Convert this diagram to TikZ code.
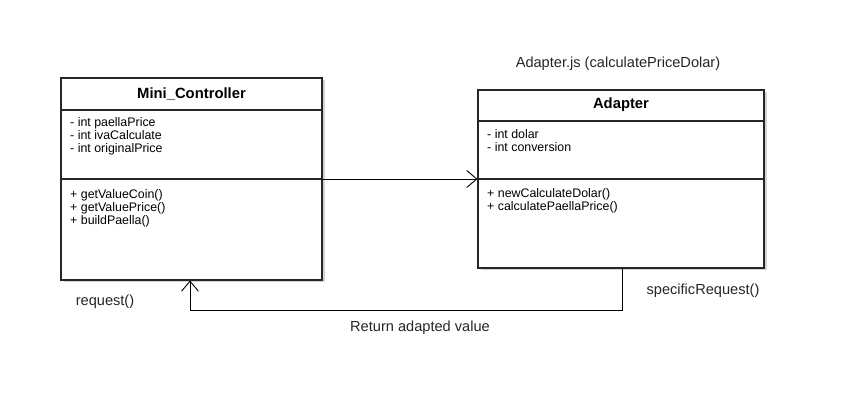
\documentclass[tikz,border=0pt]{standalone}
\usepackage{fontspec}
\setmainfont{Liberation Sans}
\usetikzlibrary{arrows.meta,shadows}

\begin{document}
\begin{tikzpicture}[x=1pt,y=-1pt,
    classbox/.style={draw=black!85, line width=1.1pt, fill=white, inner sep=0pt,
      drop shadow={shadow xshift=2.5pt, shadow yshift=-2.5pt, opacity=0.35}},
    member/.style={anchor=north west, inner sep=0pt, align=left,
      font=\fontsize{12.4}{13}\selectfont},
    title/.style={font=\fontsize{14.8}{16}\selectfont\bfseries},
    lbl/.style={font=\fontsize{14.6}{16}\selectfont, text=black!85},
    openarrow/.style={-{Straight Barb[length=10pt,width=17pt]}, line width=0.9pt}]
	\useasboundingbox (0,0) rectangle (868,403);
	% Mini_Controller class
	\node [classbox, minimum width=261pt, minimum height=202pt] (ctrl) at (191.5,179) {};
	\draw [black!85, line width=1.1pt] (ctrl.west |- 0,110) -- (ctrl.east |- 0,110);
	\draw [black!85, line width=1.1pt] (ctrl.west) -- (ctrl.east);
	\node [title] (ctrltitle) at (191.5,94) {Mini\_Controller};
	\node [member] (ctrlattr) at (70,117.5) {- int paellaPrice\\- int ivaCalculate\\- int originalPrice};
	\node [member] (ctrlops) at (70,189.5) {+ getValueCoin()\\+ getValuePrice()\\+ buildPaella()};
	
	% Adapter class
	\node [lbl] (file) at (618,64) {Adapter.js (calculatePriceDolar)};
	\node [classbox, minimum width=286pt, minimum height=178pt] (adapter) at (621,179) {};
	\draw [black!85, line width=1.1pt] (adapter.west |- 0,121) -- (adapter.east |- 0,121);
	\draw [black!85, line width=1.1pt] (adapter.west) -- (adapter.east);
	\node [title] (adaptertitle) at (621,105) {Adapter};
	\node [member] (adapterattr) at (487,129.5) {- int dolar\\- int conversion};
	\node [member] (adapterops) at (487,188.5) {+ newCalculateDolar()\\+ calculatePaellaPrice()};
	
	% connectors
	\draw [openarrow] (ctrl.east) -- (adapter.west);
	\coordinate (retcorner) at (190,310);
	\draw [openarrow] (adapter.south -| 622,0) |- (retcorner) -- (ctrl.south -| retcorner);
	\node [lbl] (req) at (105,302) {request()};
	\node [lbl] (specreq) at (703,291) {specificRequest()};
	\node [lbl] (ret) at (420,328) {Return adapted value};
\end{tikzpicture}
\end{document}
